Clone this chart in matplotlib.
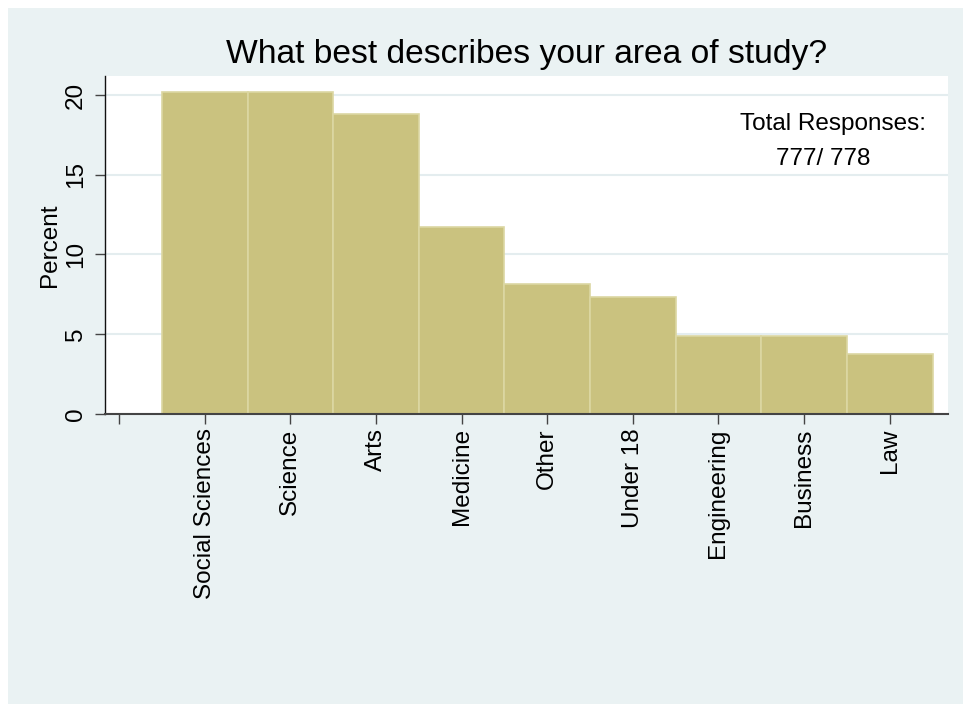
import matplotlib
matplotlib.use('Agg')
import matplotlib.pyplot as plt
from matplotlib.patches import Rectangle

plt.rcParams['font.family'] = ['Liberation Sans', 'DejaVu Sans']

categories = ['Social Sciences', 'Science', 'Arts', 'Medicine', 'Other',
              'Under 18', 'Engineering', 'Business', 'Law']
percent = [20.21, 20.21, 18.79, 11.71, 8.11, 7.34, 4.89, 4.89, 3.73]
tick_labels = [''] + categories
y_ticks = [0, 5, 10, 15, 20]

BG = '#EAF2F3'
BAR = '#CAC27F'
BAR_EDGE = '#DCD7A3'
GRID = '#E4EDEF'

W, H = 963, 704
fig = plt.figure(figsize=(W / 100, H / 100), dpi=100, facecolor='white')
fig.patches.append(Rectangle((8 / W, 0), 1, (H - 8) / H, transform=fig.transFigure,
                             facecolor=BG, edgecolor='none', zorder=-10))

ax = fig.add_axes([104.5 / W, (H - 413.7) / H, (948 - 104.5) / W, (413.7 - 76) / H])
ax.set_facecolor('white')

positions = list(range(1, len(categories) + 1))
ax.bar(positions, percent, width=1.0, color=BAR, edgecolor=BAR_EDGE, linewidth=1.2, zorder=2)

ax.set_xlim(-0.17, 9.68)
ax.set_ylim(0, 21.19)
ax.set_xticks(range(len(tick_labels)))
ax.set_xticklabels(tick_labels, rotation=90, fontsize=17.5)
ax.set_yticks(y_ticks)
ax.set_yticklabels([str(v) for v in y_ticks], rotation=90, va='center', fontsize=17.5)

ax.yaxis.grid(True, color=GRID, linewidth=1.5)
ax.set_axisbelow(True)
for s in ['top', 'right']:
    ax.spines[s].set_visible(False)
ax.spines['left'].set_color('#111111')
ax.spines['bottom'].set_color('#444444')
ax.spines['left'].set_linewidth(1.0)
ax.spines['bottom'].set_linewidth(1.5)
ax.tick_params(axis='x', length=7.5, width=1.0, color='#444444', pad=3)
ax.tick_params(axis='y', length=7.5, width=1.0, color='#444444', pad=5)

ax.set_ylabel('Percent', fontsize=17.5, labelpad=3)
ax.set_title('What best describes your area of study?', fontsize=24.2, pad=9)

ax.text(8.34, 17.8, 'Total Responses:', ha='center', va='baseline', fontsize=17.5)
ax.text(8.22, 15.6, '777/ 778', ha='center', va='baseline', fontsize=17.5)

fig.savefig('out.png', dpi=100, facecolor=fig.get_facecolor())
